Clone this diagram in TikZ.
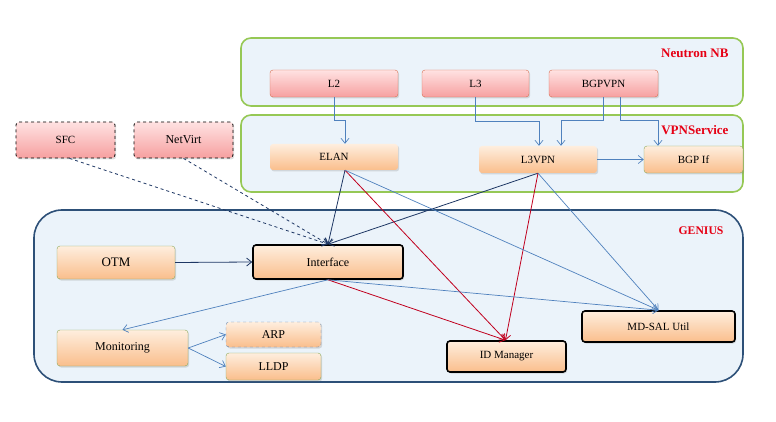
\documentclass[tikz,border=0pt]{standalone}
\usepackage{fontspec}
\setmainfont{Liberation Serif}
\usetikzlibrary{arrows.meta,shadows}

\definecolor{panelfill}{RGB}{235,243,250}
\definecolor{panelgreen}{RGB}{150,200,85}
\definecolor{geniusline}{RGB}{45,80,120}
\definecolor{titlered}{RGB}{230,0,20}
\definecolor{redtop}{RGB}{255,226,226}
\definecolor{redbot}{RGB}{246,160,160}
\definecolor{redline}{RGB}{215,110,80}
\definecolor{orangetop}{RGB}{254,238,222}
\definecolor{orangebot}{RGB}{250,190,140}
\definecolor{oliveline}{RGB}{140,170,90}
\definecolor{lightarrow}{RGB}{79,129,189}
\definecolor{navyarrow}{RGB}{30,55,100}
\definecolor{redarrow}{RGB}{192,0,30}

\tikzset{
	box/.style={rounded corners=3pt, inner sep=0pt, font=\fontsize{11}{12}\selectfont,
		drop shadow={shadow xshift=1.2pt, shadow yshift=-1.5pt, opacity=0.25}},
	big/.style={font=\fontsize{12}{13}\selectfont},
	redbox/.style={box, draw=redline, top color=redtop, bottom color=redbot},
	dashredbox/.style={box, draw=black, dashed, thick, top color=redtop, bottom color=redbot},
	orangebox/.style={box, top color=orangetop, bottom color=orangebot},
	olivebox/.style={orangebox, draw=oliveline},
	dashbluebox/.style={orangebox, draw=lightarrow!70!gray, dashed},
	boldbox/.style={orangebox, draw=black, line width=1.6pt},
	panel/.style={fill=panelfill, draw=panelgreen, line width=1.6pt, rounded corners=10pt},
	title/.style={anchor=east, text=titlered, font=\bfseries\fontsize{13}{15}\selectfont},
	tip/.style={-{Straight Barb[length=5pt,width=8pt]}},
	lightline/.style={tip, draw=lightarrow, line width=0.7pt},
	navyline/.style={tip, draw=navyarrow, line width=0.8pt},
	redline/.style={tip, draw=redarrow, line width=0.8pt},
}

\begin{document}
\begin{tikzpicture}[x=1pt, y=-1pt]
		%%%%% START %%%%%
		\useasboundingbox (0, 0) rectangle (776, 422);
		
		% panels
		\draw[panel] (241, 38) rectangle (743, 106);
		\draw[panel] (241, 115) rectangle (743, 192);
		\draw[fill=panelfill, draw=geniusline, line width=1.6pt, rounded corners=28pt] (34, 210) rectangle (743, 382);
		
		\node[title] (nbtitle) at (732, 53) {Neutron NB};
		\node[title] (vpntitle) at (732, 130) {VPNService};
		\node[title, font=\bfseries\fontsize{11.7}{14}\selectfont] (geniustitle) at (727, 231) {GENIUS};
		
		% neutron northbound
		\node[redbox, minimum width=128, minimum height=27] (l2) at (334, 83.5) {L2};
		\node[redbox, minimum width=107, minimum height=27] (l3) at (475.5, 83.5) {L3};
		\node[redbox, minimum width=109, minimum height=27] (bgpvpn) at (603.5, 83.5) {BGPVPN};
		
		\node[dashredbox, minimum width=99, minimum height=36] (sfc) at (65.5, 140) {SFC};
		\node[dashredbox, big, minimum width=99, minimum height=36] (netvirt) at (183.5, 140) {NetVirt};
		
		% vpn service
		\node[orangebox, minimum width=128, minimum height=26] (elan) at (334, 157) {ELAN};
		\node[orangebox, minimum width=118, minimum height=27] (l3vpn) at (538, 159.5) {L3VPN};
		\node[olivebox, minimum width=99, minimum height=27] (bgpif) at (693.5, 159.5) {BGP If};
		
		% genius
		\node[olivebox, font=\fontsize{13}{14}\selectfont, minimum width=118, minimum height=33] (otm) at (116, 262.5) {OTM};
		\node[boldbox, big, minimum width=150, minimum height=34] (iface) at (328, 262) {Interface};
		\node[olivebox, big, minimum width=131, minimum height=36] (monitor) at (122.5, 348) {Monitoring};
		\node[dashbluebox, big, minimum width=95, minimum height=25] (arp) at (273.5, 334.5) {ARP};
		\node[olivebox, big, minimum width=95, minimum height=27] (lldp) at (273.5, 366.5) {LLDP};
		\node[boldbox, minimum width=119, minimum height=31] (idmgr) at (506.5, 356.5) {ID Manager};
		\node[boldbox, minimum width=153, minimum height=31] (mdsal) at (658.5, 326.5) {MD-SAL Util};
		
		% northbound to services
		\draw[lightline] (l2.south) -- ++(0, 23) -| ([xshift=11pt]elan.north);
		\draw[lightline] (l3.south) -- ++(0, 24) -| ([xshift=1pt]l3vpn.north);
		\draw[lightline] (bgpvpn.south) -- ++(0, 23) -| ([xshift=23pt]l3vpn.north);
		\draw[lightline] ([xshift=17pt]bgpvpn.south) -- ++(0, 23) -| ([xshift=-35.5pt]bgpif.north);
		\draw[lightline] (l3vpn.east) -- (bgpif.west);
		
		% into interface
		\draw[navyline, dashed] ([xshift=4pt]sfc.south) -- (iface.north);
		\draw[navyline, dashed] (netvirt.south) -- (iface.north);
		\draw[navyline] ([xshift=11pt]elan.south) -- (iface.north);
		\draw[navyline] (l3vpn.south) -- (iface.north);
		\draw[navyline] (otm.east) -- (iface.west);
		
		% id manager
		\draw[redline] ([xshift=11pt]elan.south) -- ([xshift=-1pt]idmgr.north);
		\draw[redline] (l3vpn.south) -- ([xshift=-1pt]idmgr.north);
		\draw[redline] (iface.south) -- ([xshift=-1pt]idmgr.north);
		
		% md-sal util
		\draw[lightline] ([xshift=11pt]elan.south) -- (mdsal.north);
		\draw[lightline] (l3vpn.south) -- (mdsal.north);
		\draw[lightline] (iface.south) -- (mdsal.north);
		
		% monitoring
		\draw[lightline] (iface.south) -- (monitor.north);
		\draw[lightline] (monitor.east) -- (arp.west);
		\draw[lightline] (monitor.east) -- (lldp.west);
		
		%%%%% END %%%%%
	\end{tikzpicture}
\end{document}
